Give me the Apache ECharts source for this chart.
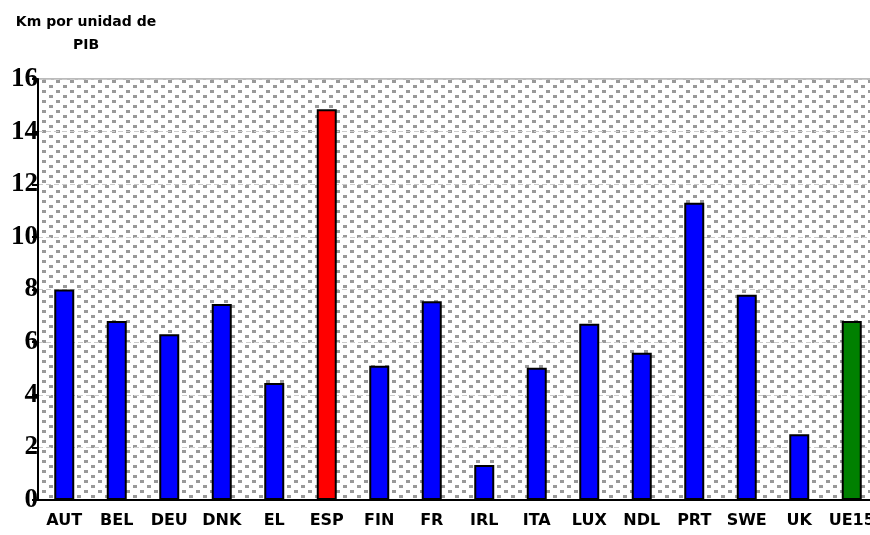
<!DOCTYPE html>
<html>
<head>
<meta charset="utf-8">
<script src="https://cdn.jsdelivr.net/npm/echarts@6/dist/echarts.min.js"></script>
<style>
  html, body { margin: 0; padding: 0; background: #fff; }
  #chart { width: 870px; height: 535px; }
</style>
</head>
<body>
<div id="chart"></div>
<script>
var countries = ['AUT', 'BEL', 'DEU', 'DNK', 'EL', 'ESP', 'FIN', 'FR', 'IRL', 'ITA', 'LUX', 'NDL', 'PRT', 'SWE', 'UK', 'UE15'];
var kmPorPib = [8.0, 6.8, 6.3, 7.45, 4.45, 14.85, 5.1, 7.55, 1.33, 5.03, 6.7, 5.6, 11.3, 7.8, 2.5, 6.8];
var yTicks = [0, 2, 4, 6, 8, 10, 12, 14, 16];

(function () {
  var myChart = echarts.init(document.getElementById('chart'));

  // dotted grey fill like the old spreadsheet chart
  var tile = document.createElement('canvas');
  tile.width = 14;
  tile.height = 10;
  var ctx = tile.getContext('2d');
  ctx.fillStyle = '#ffffff';
  ctx.fillRect(0, 0, 14, 10);
  ctx.fillStyle = '#999999';
  ctx.fillRect(0, 0, 4, 3);
  ctx.fillRect(7, 5, 4, 3);

  function barColor(name) {
    if (name === 'ESP') return '#ff0000';
    if (name === 'UE15') return '#008000';
    return '#0000ff';
  }

  var option = {
    animation: false,
    graphic: [{
      type: 'text',
      x: 86,
      y: 11,
      style: {
        text: 'Km por unidad de\nPIB',
        textAlign: 'center',
        lineHeight: 23,
        font: 'bold 14px "DejaVu Sans", sans-serif',
        fill: '#000'
      }
    }],
    grid: {
      left: 38,
      top: 79,
      bottom: 35,
      width: 840,
      outerBoundsMode: 'none',
      containLabel: false,
      show: true,
      backgroundColor: { image: tile, repeat: 'repeat' },
      borderColor: '#bbbbbb',
      borderWidth: 2
    },
    xAxis: {
      type: 'category',
      data: countries,
      axisLine: { lineStyle: { color: '#000', width: 2 } },
      axisTick: { length: 6, lineStyle: { color: '#000', width: 2 } },
      axisLabel: {
        margin: 13,
        color: '#000',
        fontFamily: 'DejaVu Sans',
        fontWeight: 'bold',
        fontSize: 16,
        interval: 0
      }
    },
    yAxis: {
      type: 'value',
      min: yTicks[0],
      max: yTicks[yTicks.length - 1],
      interval: 2,
      axisLine: { show: true, lineStyle: { color: '#000', width: 2 } },
      axisTick: { show: true, length: 6, lineStyle: { color: '#000', width: 2 } },
      axisLabel: {
        margin: 0,
        color: '#000',
        fontFamily: 'Liberation Serif',
        fontWeight: 'bold',
        fontSize: 27
      },
      splitLine: { lineStyle: { color: '#cccccc', type: [5, 3], width: 1 } }
    },
    series: [{
      type: 'bar',
      barWidth: 20,
      data: kmPorPib.map(function (v, i) {
        return { value: v, itemStyle: { color: barColor(countries[i]) } };
      }),
      itemStyle: { borderColor: '#000', borderWidth: 2 }
    }]
  };

  myChart.setOption(option);
})();
</script>
</body>
</html>
